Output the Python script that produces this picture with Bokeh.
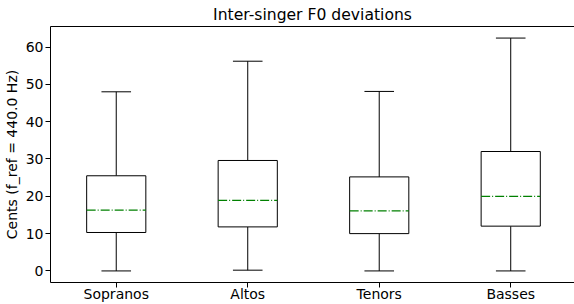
from bokeh.plotting import figure
from bokeh.models import Range1d, FixedTicker, LinearAxis
from bokeh.embed import file_html
from bokeh.resources import INLINE

categories = ["Sopranos", "Altos", "Tenors", "Basses"]
whisker_low = [0.0, 0.2, 0.0, 0.0]
q1 = [10.3, 11.8, 10.0, 12.0]
median = [16.3, 18.9, 16.1, 20.0]
q3 = [25.5, 29.6, 25.2, 32.0]
whisker_high = [48.0, 56.2, 48.1, 62.4]
y_ticks = [0, 10, 20, 30, 40, 50, 60]

positions = [i + 1 for i in range(len(categories))]
box_w = 0.45
cap_w = box_w / 2
FONT = "DejaVu Sans"
FS = "14px"

p = figure(width=574, height=304, output_backend="svg", toolbar_location=None,
           x_range=Range1d(0.5, 4.485), y_range=Range1d(-3.1, 65.5),
           title="Inter-singer F0 deviations",
           min_border_left=50, min_border_right=0, min_border_top=26, min_border_bottom=0)
p.background_fill_color = "white"
p.border_fill_color = "white"
p.outline_line_color = None
p.grid.visible = False

p.title.text_font = FONT
p.title.text_font_size = "15.6px"
p.title.text_font_style = "normal"
p.title.align = "center"
p.title.text_color = "black"
p.title.standoff = 5
p.title.offset = 0

# whiskers
p.segment(x0=positions, y0=whisker_low, x1=positions, y1=q1, line_color="black", line_width=1)
p.segment(x0=positions, y0=q3, x1=positions, y1=whisker_high, line_color="black", line_width=1)
# caps
p.segment(x0=[x - cap_w / 2 for x in positions], y0=whisker_low,
          x1=[x + cap_w / 2 for x in positions], y1=whisker_low, line_color="black", line_width=1)
p.segment(x0=[x - cap_w / 2 for x in positions], y0=whisker_high,
          x1=[x + cap_w / 2 for x in positions], y1=whisker_high, line_color="black", line_width=1)
# boxes
p.quad(left=[x - box_w / 2 for x in positions], right=[x + box_w / 2 for x in positions],
       bottom=q1, top=q3, fill_color="white", line_color="black", line_width=1)
# medians
p.segment(x0=[x - box_w / 2 for x in positions], y0=median,
          x1=[x + box_w / 2 for x in positions], y1=median,
          line_color="#008000", line_width=1.3, line_dash="9 2 1 2")

# axes
xa = p.xaxis[0]
xa.ticker = FixedTicker(ticks=positions)
xa.major_label_overrides = {x: c for x, c in zip(positions, categories)}
ya = p.yaxis[0]
ya.ticker = FixedTicker(ticks=y_ticks)
ya.axis_label = "Cents (f_ref = 440.0 Hz)"
for ax in (xa, ya):
    ax.major_label_text_font = FONT
    ax.major_label_text_font_size = FS
    ax.major_label_text_color = "black"
    ax.axis_line_color = "black"
    ax.major_tick_line_color = "black"
    ax.major_tick_out = 5
    ax.major_tick_in = 0
    ax.minor_tick_line_color = None
xa.major_label_standoff = -2
xa.axis_label_standoff = 0
ya.major_label_standoff = 2
ya.axis_label_text_font = FONT
ya.axis_label_text_font_size = FS
ya.axis_label_text_font_style = "normal"
ya.axis_label_text_color = "black"
ya.axis_label_standoff = 3

top = LinearAxis(ticker=FixedTicker(ticks=[]), major_label_text_font_size="0px",
                 major_tick_line_color=None, minor_tick_line_color=None,
                 axis_line_color="black", major_label_standoff=0, axis_label_standoff=0)
p.add_layout(top, "above")

open("out.html", "w").write(file_html(p, INLINE))
